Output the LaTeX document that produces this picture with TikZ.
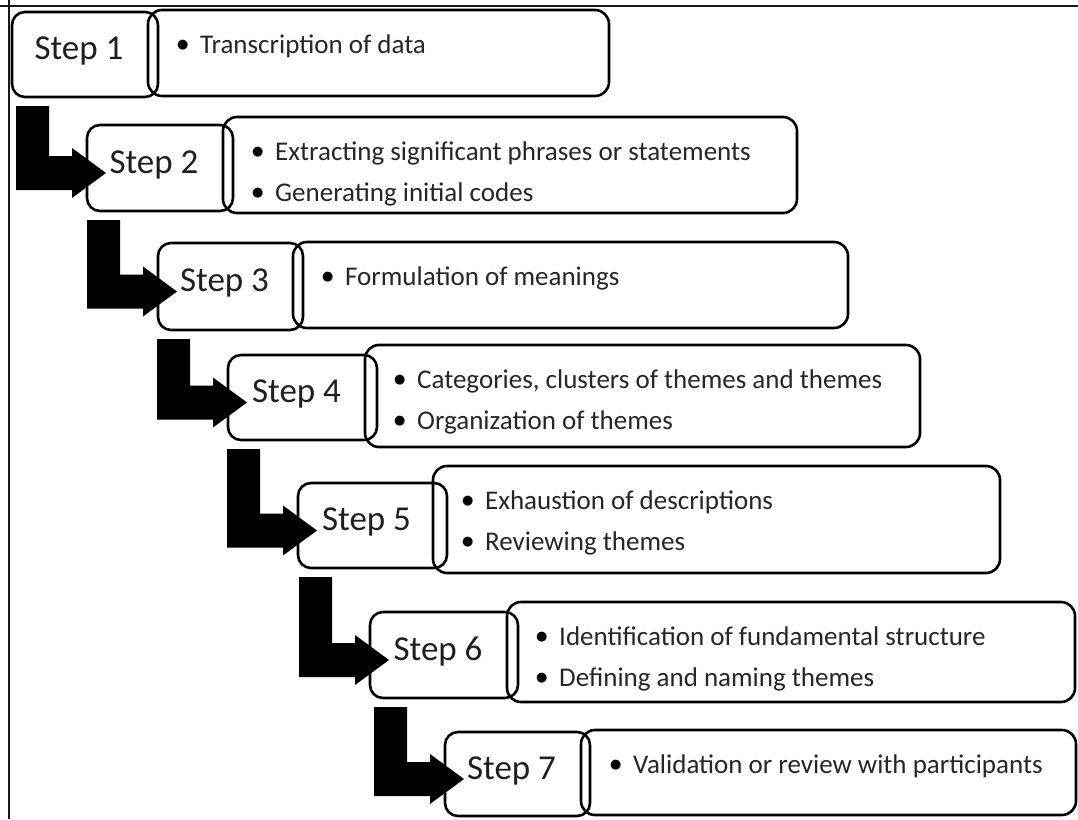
\documentclass[tikz,border=0pt]{standalone}
\usepackage{fontspec}
\setmainfont{Carlito}
\newfontfamily\symfont{DejaVu Sans}
\usetikzlibrary{calc}

\tikzset{
  stepbox/.style={draw, line width=2.6pt, rounded corners=13pt, rectangle,
    inner sep=0pt, outer sep=0pt, anchor=north west},
  infobox/.style={draw, line width=2.6pt, rounded corners=14pt, rectangle,
    inner sep=0pt, outer sep=0pt, anchor=north west},
  steplabel/.style={anchor=base, inner sep=0pt, text=black!88,
    font=\fontsize{35}{40}\selectfont},
  bullets/.style={anchor=north west, inner sep=0pt, align=left, text=black!85,
    font=\fontsize{27}{41}\selectfont},
  blockarrow/.style={fill=black}
}
% one bullet item; the strut fixes the height of the first line
\newcommand\bitem[1]{\rule{0pt}{20pt}\makebox[23pt][l]{\raisebox{5pt}{\symfont\fontsize{13}{13}\selectfont\color{black}●}}#1}

\begin{document}
\begin{tikzpicture}[x=1pt, y=-1pt]
  % page
  \fill[white] (0,0) rectangle (1078,819);
  \useasboundingbox (0,0) rectangle (1078,819);
  \draw[line width=2.4pt, black!90] (0,6) -- (1078,6);
  \draw[line width=2.4pt, black!90] (9,0) -- (9,819);

  % step boxes
  \node[stepbox, minimum width=146pt, minimum height=85pt] (s1) at (12,12) {};
  \node[stepbox, minimum width=146pt, minimum height=86pt] (s2) at (87,125) {};
  \node[stepbox, minimum width=145pt, minimum height=87pt] (s3) at (158,243) {};
  \node[stepbox, minimum width=149pt, minimum height=85pt] (s4) at (228,355) {};
  \node[stepbox, minimum width=149pt, minimum height=85pt] (s5) at (298,483) {};
  \node[stepbox, minimum width=148pt, minimum height=86pt] (s6) at (370,612) {};
  \node[stepbox, minimum width=145pt, minimum height=84pt] (s7) at (445,732) {};

  % description boxes
  \node[infobox, minimum width=461pt, minimum height=86pt]  (b1) at (148,10) {};
  \node[infobox, minimum width=574pt, minimum height=96pt]  (b2) at (223,117) {};
  \node[infobox, minimum width=555pt, minimum height=86pt]  (b3) at (293,242) {};
  \node[infobox, minimum width=555pt, minimum height=102pt] (b4) at (365,345) {};
  \node[infobox, minimum width=567pt, minimum height=107pt] (b5) at (433,466) {};
  \node[infobox, minimum width=568pt, minimum height=100pt] (b6) at (507,602) {};
  \node[infobox, minimum width=495pt, minimum height=85pt]  (b7) at (581,730) {};

  % step labels
  \foreach \i in {1,...,7}
    \node[steplabel] (l\i) at ($(s\i.center)+(-6,5)$) {Step \i};

  % bullet lists
  \node[bullets] (d1) at ($(b1.north west)+(29,23)$) {\bitem{Transcription of data}};
  \node[bullets] (d2) at ($(b2.north west)+(29,23)$)
    {\bitem{Extracting significant phrases or statements}\\\bitem{Generating initial codes}};
  \node[bullets] (d3) at ($(b3.north west)+(29,23)$) {\bitem{Formulation of meanings}};
  \node[bullets] (d4) at ($(b4.north west)+(29,23)$)
    {\bitem{Categories, clusters of themes and themes}\\\bitem{Organization of themes}};
  \node[bullets] (d5) at ($(b5.north west)+(29,23)$)
    {\bitem{Exhaustion of descriptions}\\\bitem{Reviewing themes}};
  \node[bullets] (d6) at ($(b6.north west)+(29,23)$)
    {\bitem{Identification of fundamental structure}\\\bitem{Defining and naming themes}};
  \node[bullets] (d7) at ($(b7.north west)+(29,23)$) {\bitem{Validation or review with participants}};

  % bent block arrows from each step down into the next one
  \foreach \i [evaluate=\i as \j using int(\i-1)] in {2,...,7}
    \fill[blockarrow]
      ($(s\j.south -| s\i.west)+(-71,9)$) -- ++(33,0)
      -- ($(s\i.west)+(-38,-12)$) -- ($(s\i.west)+(-15,-12)$)
      -- ($(s\i.west)+(-15,-20)$) -- ($(s\i.west)+(19,5)$)
      -- ($(s\i.west)+(-15,30)$) -- ($(s\i.west)+(-15,22)$)
      -- ($(s\i.west)+(-71,22)$) -- cycle;
\end{tikzpicture}
\end{document}
